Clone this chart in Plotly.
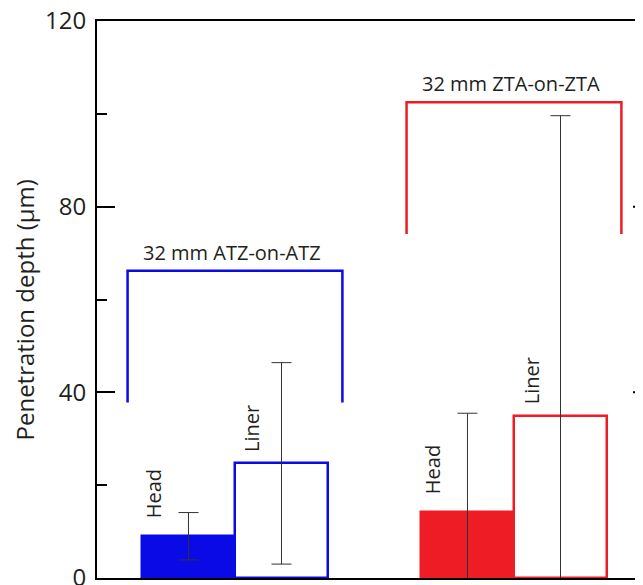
import plotly.graph_objects as go

# ---- data ----
groups = ["32 mm ATZ-on-ATZ", "32 mm ZTA-on-ZTA"]
group_pos = [1, 2]
components = ["Head", "Liner"]
head_depth = [9.0, 14.2]
head_err = [5.1, 21.3]
liner_depth = [24.7, 35.0]
liner_err = [21.7, 64.6]
bracket_top = [66.2, 102.5]
bracket_bottom = [37.8, 74.1]
group_colors = ["#0a0ae6", "#ee1c24"]
y_ticks = [0, 40, 80, 120]
y_title = "Penetration depth (µm)"

FONT = "Open Sans"
TXT = "#231f20"
off = 0.1667
bw = 0.333
half = 0.385

fig = go.Figure()

head_x = [g - off for g in group_pos]
liner_x = [g + off for g in group_pos]

fig.add_trace(go.Bar(
    x=head_x, y=head_depth, width=bw,
    marker=dict(color=group_colors, line=dict(color=group_colors, width=2.5)),
    error_y=dict(type="data", array=head_err, color="#333333", thickness=1, width=10),
    showlegend=False,
))
fig.add_trace(go.Bar(
    x=liner_x, y=liner_depth, width=bw,
    marker=dict(color="white", line=dict(color=group_colors, width=2.5)),
    error_y=dict(type="data", array=liner_err, color="#333333", thickness=1, width=10),
    showlegend=False,
))

# brackets
for g, top, bot, col, name in zip(group_pos, bracket_top, bracket_bottom, group_colors, groups):
    fig.add_trace(go.Scatter(
        x=[g - half, g - half, g + half, g + half],
        y=[bot, top, top, bot],
        mode="lines", line=dict(color=col, width=2.5),
        showlegend=False, hoverinfo="skip", cliponaxis=False,
    ))
    fig.add_annotation(x=g - 0.01, y=top, text=name, showarrow=False,
                       yanchor="bottom", yshift=3,
                       font=dict(family=FONT, size=20, color=TXT))

# component labels (rotated)
for hx, hv, lx, lv in zip(head_x, head_depth, liner_x, liner_depth):
    fig.add_annotation(x=hx - 0.125, y=hv, text=components[0], textangle=-90,
                       showarrow=False, yanchor="bottom", yshift=16,
                       font=dict(family=FONT, size=20, color=TXT))
    fig.add_annotation(x=lx - 0.105, y=lv, text=components[1], textangle=-90,
                       showarrow=False, yanchor="bottom", yshift=9,
                       font=dict(family=FONT, size=20, color=TXT))

# y-axis title as a rotated annotation
fig.add_annotation(xref="paper", yref="paper", x=0, y=0.5, xanchor="center",
                   yanchor="middle", xshift=-73, yshift=-11, text=y_title,
                   textangle=-90, showarrow=False,
                   font=dict(family=FONT, size=24, color=TXT))

# partial ticks of neighbouring axis at right edge
for v in [40, 80]:
    fig.add_shape(type="line", xref="paper", yref="y", x0=0.9817, x1=1.0, y0=v, y1=v,
                  line=dict(color="black", width=2))
for v in [20, 60, 100]:
    fig.add_shape(type="line", xref="paper", yref="y", x0=0.996, x1=1.0, y0=v, y1=v,
                  line=dict(color="#aaaaaa", width=2))

# page body has an 8px margin, so the figure is shifted by 8px
fig.update_layout(
    width=635, height=577,
    margin=dict(l=89, r=0, t=13, b=7, autoexpand=False),
    plot_bgcolor="white", paper_bgcolor="white",
    bargap=0, barmode="overlay",
    font=dict(family=FONT, color=TXT),
    xaxis=dict(range=[0.5054, 2.4624], showticklabels=False, ticks="",
               showline=True, linecolor="black", linewidth=2, mirror=True,
               showgrid=False, zeroline=False, fixedrange=True, automargin=False),
    yaxis=dict(range=[0, 120], tickvals=y_ticks, ticks="inside", ticklen=18,
               tickwidth=2, tickcolor="black",
               minor=dict(tickvals=[20, 60, 100], ticks="inside", ticklen=10,
                          tickwidth=2, tickcolor="black"),
               showline=True, linecolor="black", linewidth=2, mirror=False,
               showgrid=False, zeroline=False, ticklabeloverflow="allow",
               automargin=False,
               tickfont=dict(family=FONT, size=24, color=TXT),
               ticklabelstandoff=4),
)

fig.write_html("out.html")
